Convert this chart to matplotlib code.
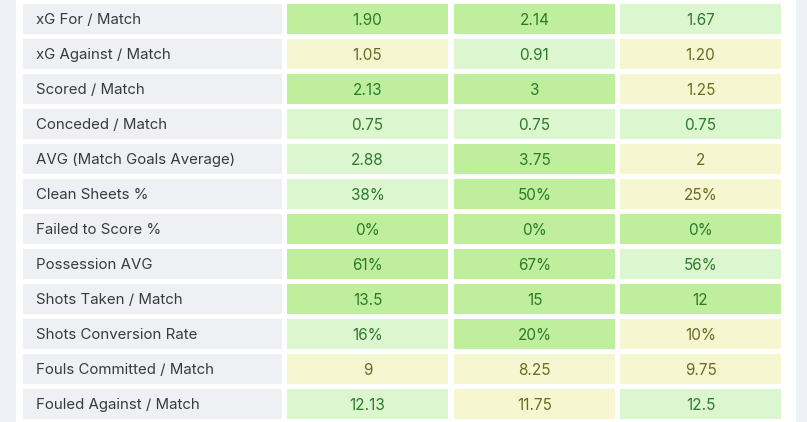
import matplotlib
matplotlib.use("Agg")
import matplotlib.pyplot as plt
from matplotlib.patches import Rectangle

# ---- data ----
labels = [
    "xG For / Match", "xG Against / Match", "Scored / Match", "Conceded / Match",
    "AVG (Match Goals Average)", "Clean Sheets %", "Failed to Score %",
    "Possession AVG", "Shots Taken / Match", "Shots Conversion Rate",
    "Fouls Committed / Match", "Fouled Against / Match",
]
col1 = ["1.90", "1.05", "2.13", "0.75", "2.88", "38%", "0%", "61%", "13.5", "16%", "9", "12.13"]
col2 = ["2.14", "0.91", "3", "0.75", "3.75", "50%", "0%", "67%", "15", "20%", "8.25", "11.75"]
col3 = ["1.67", "1.20", "1.25", "0.75", "2", "25%", "0%", "56%", "12", "10%", "9.75", "12.5"]
# colour level: 2 = strong green, 1 = light green, 0 = yellow
lvl1 = [2, 0, 2, 1, 1, 1, 2, 2, 2, 1, 0, 1]
lvl2 = [2, 1, 2, 1, 2, 2, 2, 2, 2, 2, 0, 0]
lvl3 = [1, 0, 0, 1, 0, 0, 2, 1, 2, 0, 0, 1]

# ---- styles ----
W, H = 807, 422
fill = {2: "#bfee9d", 1: "#dcf7cf", 0: "#f6f6d0"}
tcol = {2: "#2b7a2b", 1: "#2b7a2b", 0: "#6b6a22"}
label_bg = "#eef0f3"
strip_bg = "#eef1f5"
font = ["Inter", "DejaVu Sans"]

row_top, row_h, pitch = 4, 29.5, 35
label_x0, label_x1 = 23, 282
cols_x = [(287, 448), (454, 615), (620, 781)]

fig = plt.figure(figsize=(W / 100, H / 100), dpi=100)
fig.patch.set_facecolor("white")
ax = fig.add_axes([0, 0, 1, 1])
ax.set_xlim(0, W)
ax.set_ylim(H, 0)
ax.axis("off")

ax.add_patch(Rectangle((0, 0), 16, H, facecolor=strip_bg, edgecolor="none"))
ax.add_patch(Rectangle((796, 0), W - 796, H, facecolor=strip_bg, edgecolor="none"))

values = [col1, col2, col3]
levels = [lvl1, lvl2, lvl3]
for i, lab in enumerate(labels):
    y = row_top + i * pitch
    yc = y + row_h / 2
    ax.add_patch(Rectangle((label_x0, y), label_x1 - label_x0, row_h,
                           facecolor=label_bg, edgecolor="none"))
    ax.text(36, yc, lab, ha="left", va="center_baseline", fontsize=10.8,
            color="#3a3a3a", family=font)
    for (x0, x1), vals, lv in zip(cols_x, values, levels):
        ax.add_patch(Rectangle((x0, y), x1 - x0, row_h,
                               facecolor=fill[lv[i]], edgecolor="none"))
        ax.text((x0 + x1) / 2, yc, vals[i], ha="center", va="center_baseline",
                fontsize=11, color=tcol[lv[i]], family=font)

fig.savefig("out.png", dpi=100, facecolor="white")
